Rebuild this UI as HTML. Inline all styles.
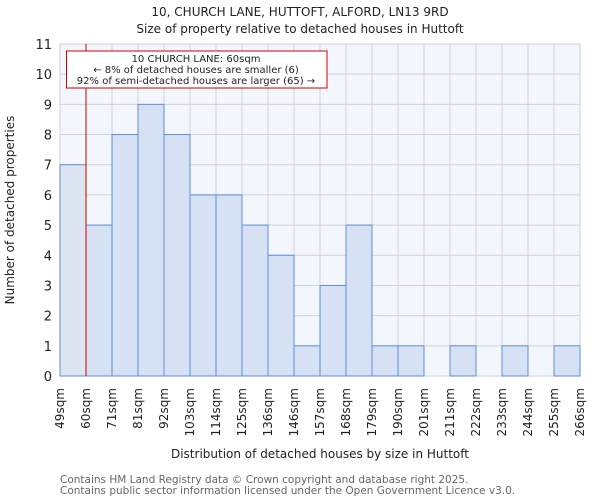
<!DOCTYPE html>
<html><head><meta charset="utf-8"><style>
body{margin:0;background:#fff;font-family:"DejaVu Sans","Liberation Sans",sans-serif}
</style></head><body>
<svg width="600" height="500" xmlns="http://www.w3.org/2000/svg" font-family="DejaVu Sans, Liberation Sans, sans-serif">
<text x="300" y="16" text-anchor="middle" font-size="12" fill="#222">10, CHURCH LANE, HUTTOFT, ALFORD, LN13 9RD</text>
<text x="300" y="33" text-anchor="middle" font-size="12" fill="#222">Size of property relative to detached houses in Huttoft</text>
<rect x="60" y="44" width="520" height="332" fill="#f3f6fd"/>
<g id="grid"></g><g id="bars"></g><g id="yticks"></g><g id="xticks"></g>
<line x1="86" y1="44" x2="86" y2="376" stroke="#cc0000" stroke-width="1"/>
<rect x="66.5" y="51" width="260.5" height="37" fill="#fff" stroke="#cc0000" stroke-width="1"/>
<text x="196" y="62" text-anchor="middle" font-size="10" fill="#222">10 CHURCH LANE: 60sqm</text>
<text x="196" y="73" text-anchor="middle" font-size="10" fill="#222">← 8% of detached houses are smaller (6)</text>
<text x="196" y="84" text-anchor="middle" font-size="10" fill="#222">92% of semi-detached houses are larger (65) →</text>
<text x="14" y="210" text-anchor="middle" font-size="12" fill="#222" transform="rotate(-90 14 210)">Number of detached properties</text>
<text x="320" y="458" text-anchor="middle" font-size="12" fill="#222">Distribution of detached houses by size in Huttoft</text>
<text x="60" y="483" font-size="10.5" fill="#666">Contains HM Land Registry data © Crown copyright and database right 2025.</text>
<text x="60" y="494" font-size="10.5" fill="#666">Contains public sector information licensed under the Open Government Licence v3.0.</text>
</svg>
<script>
const categories=["49sqm","60sqm","71sqm","81sqm","92sqm","103sqm","114sqm","125sqm","136sqm","146sqm","157sqm","168sqm","179sqm","190sqm","201sqm","211sqm","222sqm","233sqm","244sqm","255sqm","266sqm"];
const counts=[7,5,8,9,8,6,6,5,4,1,3,5,1,1,0,1,0,1,0,1];
const yTicks=[0,1,2,3,4,5,6,7,8,9,10,11];
const NS="http://www.w3.org/2000/svg";
const L=60,R=580,T=44,B=376,YMAX=11;
const bw=(R-L)/counts.length;
const xs=i=>L+i*bw;
const ys=v=>B-(v/YMAX)*(B-T);
function mk(tag,attrs,parent){const e=document.createElementNS(NS,tag);for(const k in attrs)e.setAttribute(k,attrs[k]);document.getElementById(parent).appendChild(e);return e;}
yTicks.forEach(t=>{
 const g=mk('line',{x1:L,x2:R,y1:ys(t),y2:ys(t),stroke:'#cfd2da','stroke-width':1},'grid');
 
 
 const tx=mk('text',{x:L-8,y:ys(t)+5,'text-anchor':'end','font-size':13,fill:'#222'},'yticks');
 tx.textContent=t;
 
 
});
categories.forEach((c,i)=>{
 const g=mk('line',{x1:xs(i),x2:xs(i),y1:T,y2:B,stroke:'#cfd2da','stroke-width':1},'grid');
 
 
 const x=xs(i)+4,y=B+12;
 const tx=mk('text',{x:x,y:y,'text-anchor':'end','font-size':12,fill:'#222',transform:`rotate(-90 ${x} ${y})`},'xticks');
 tx.textContent=c;
 
 
});
counts.forEach((v,i)=>{
 if(v<=0)return;
 const r=mk('rect',{x:xs(i),y:ys(v),width:bw,height:B-ys(v),fill:i===0?'#dde5f3':'#d6e1f3',stroke:'#5b8fd9','stroke-width':1},'bars');
 
 
});
</script>
</body></html>
